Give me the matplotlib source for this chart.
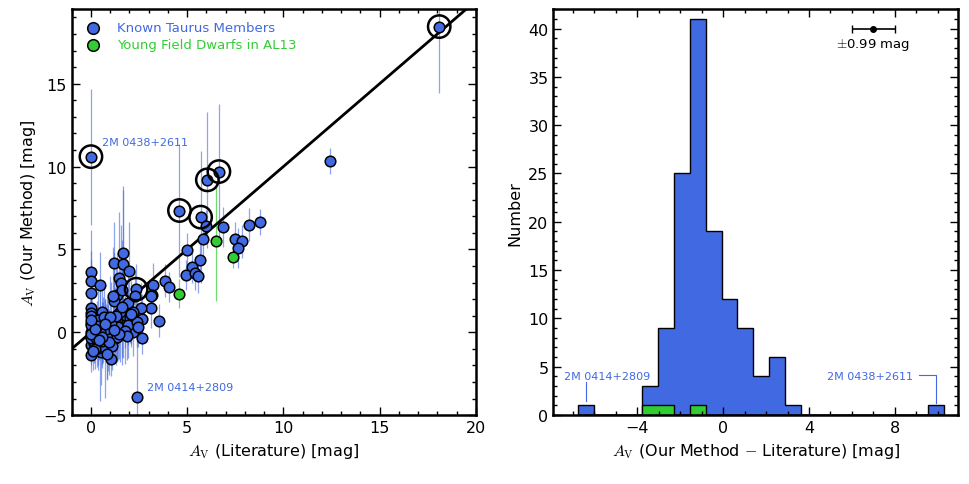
import numpy as np
import matplotlib
matplotlib.use("Agg")
import matplotlib.pyplot as plt
from matplotlib.ticker import MultipleLocator

plt.rcParams['font.family'] = ['DejaVu Sans']
plt.rcParams['mathtext.fontset'] = 'cm'

BLUE = '#4169E1'
GREEN = '#32CD32'

# --- left panel: Taurus members (literature Av, our Av, error on ours)
lit_av = [0.0, 18.1, 12.4, 4.6, 5.7, 6.05, 6.65, 2.35, 2.37,
          6.0, 6.87, 8.2, 8.8, 5.8, 7.5, 7.83, 7.62, 4.97, 5.68, 5.25,
          4.94, 5.4, 5.54, 3.85, 4.07, 3.55, 3.24, 3.12, 3.15, 3.12,
          1.68, 1.18, 1.68, 1.97, 0.0, 0.0, 0.47, 1.45, 1.56, 1.33,
          1.63, 0.0, 1.18, 1.92, 2.6, 0.0, 0.0, 0.0, 0.59, 0.0,
          2.65, 2.06, 1.59, 1.77, 1.33, 1.15, 0.64, 0.28, 1.68, 2.18,
          2.65, 0.86, 1.27, 0.47, 0.3, 0.0, 0.0, 0.0, 0.5, 0.16,
          1.02, 0.35, 0.0, 1.16, 2.29, 2.2, 0.38, 0.9, 0.59, 0.9,
          1.33, 0.38, 0.17, 0.73, 0.64, 1.25, 0.0, 0.0, 0.24, 2.03,
          1.4, 1.05, 0.8, 0.55, 1.9, 1.5, 0.7, 1.1, 0.2, 0.45,
          1.75, 2.4, 0.95, 1.3, 0.1, 0.6, 1.85, 2.1, 0.0, 0.3,
          1.0, 1.45, 0.85, 0.2, 0.0, 1.2, 1.6, 0.75, 0.4, 2.45]
our_av = [10.6, 18.45, 10.35, 7.35, 6.95, 9.2, 9.7, 2.6, -3.9,
          6.4, 6.35, 6.5, 6.67, 5.64, 5.64, 5.48, 5.1, 4.99, 4.38, 3.95,
          3.47, 3.55, 3.4, 3.11, 2.75, 0.7, 2.88, 1.47, 2.26, 2.16,
          4.8, 4.18, 4.1, 3.68, 3.65, 3.12, 2.87, 3.25, 2.95, 2.26,
          2.55, 2.36, 1.86, 1.76, 1.45, 1.45, 1.15, 0.98, 1.25, 0.55,
          0.82, 0.8, 0.55, 1.05, 0.68, 0.04, 0.14, 0.06, -0.06, 0.04,
          -0.34, -0.36, -0.33, -0.67, -0.92, -0.26, -0.77, -1.37, -1.17, -0.67,
          -1.62, -0.95, 0.04, 2.16, 2.2, 1.25, 0.75, 0.34, -0.16, -0.36,
          -0.26, -0.77, -0.56, -0.97, 0.34, 0.75, 0.44, -0.36, -0.36, 0.85,
          0.3, 0.55, 0.2, -0.5, 0.45, 1.2, 0.9, -0.8, -1.0, 0.0,
          0.1, 0.6, -0.6, 1.0, -1.1, -0.3, -0.2, 1.1, -0.1, 0.4,
          0.9, -0.1, -1.3, 0.2, 0.75, 0.15, 1.5, 0.5, -0.45, 0.3]
our_err = [4.1, 4.0, 0.8, 4.0, 4.0, 4.1, 4.1, 1.5, 4.0,
           1.0, 1.2, 1.0, 0.8, 1.2, 1.0, 1.0, 1.2, 1.0, 1.2, 1.0,
           0.9, 1.0, 1.0, 1.0, 0.9, 1.0, 1.3, 1.2, 1.0, 1.0,
           4.0, 2.5, 4.5, 3.0, 2.5, 1.8, 2.0, 4.0, 3.5, 2.5,
           3.0, 2.0, 3.0, 2.5, 1.5, 2.5, 1.5, 2.0, 1.5, 2.0,
           1.5, 1.5, 2.5, 2.0, 2.5, 1.5, 2.0, 1.2, 1.5, 1.5,
           1.0, 2.5, 1.5, 3.5, 1.2, 1.2, 1.2, 1.0, 2.0, 1.2,
           1.0, 1.0, 1.0, 3.0, 1.5, 1.5, 2.0, 2.0, 2.0, 2.0,
           1.5, 1.5, 1.2, 3.0, 1.5, 2.0, 1.5, 1.2, 1.2, 1.5,
           2.0, 2.5, 1.5, 1.5, 2.0, 3.0, 2.0, 1.5, 1.2, 1.5,
           2.0, 1.5, 2.0, 3.0, 1.2, 1.5, 1.5, 2.0, 1.2, 1.5,
           2.5, 1.5, 1.5, 1.2, 1.5, 2.0, 3.0, 1.5, 1.2, 1.2]
# which of them get a black ring
ringed = [0, 1, 3, 4, 5, 6, 7]

# young field dwarfs from AL13
fd_lit = [4.6, 6.5, 7.4]
fd_our = [2.34, 5.5, 4.57]
fd_err = [0.9, 3.6, 0.7]

# --- right panel: histogram of the differences
bin_edges = np.linspace(-6.73, 10.29, 24)
all_counts = [1, 0, 0, 0, 3, 9, 25, 41, 19, 12, 9, 4, 6, 1,
              0, 0, 0, 0, 0, 0, 0, 0, 1]
fd_counts = [0, 0, 0, 0, 1, 1, 0, 1, 0, 0, 0, 0, 0, 0,
             0, 0, 0, 0, 0, 0, 0, 0, 0]
typical_err = 0.99

fig = plt.figure(figsize=(9.69, 4.85), dpi=100)
ax1 = fig.add_axes([0.074, 0.142, 0.417, 0.837])
ax2 = fig.add_axes([0.571, 0.142, 0.418, 0.837])


def style_axes(ax):
    ax.tick_params(which='both', direction='in', top=True, right=True,
                   labelsize=11.5, width=1)
    ax.tick_params(which='major', length=6)
    ax.tick_params(which='minor', length=3)
    for sp in ax.spines.values():
        sp.set_linewidth(1.8)


# left panel
ax1.errorbar(lit_av, our_av, yerr=our_err, fmt='none', ecolor=BLUE,
             elinewidth=0.9, alpha=0.6, zorder=1)
ax1.errorbar(fd_lit, fd_our, yerr=fd_err, fmt='none', ecolor=GREEN,
             elinewidth=0.9, alpha=0.7, zorder=1)
ax1.plot([-1, 20], [-1, 20], color='k', lw=2, zorder=2)
ax1.scatter(lit_av, our_av, s=58, c=BLUE, edgecolors='k', linewidths=1.1,
            zorder=3, label='Known Taurus Members')
ax1.scatter(fd_lit, fd_our, s=58, c=GREEN, edgecolors='k', linewidths=1.1,
            zorder=3, label='Young Field Dwarfs in AL13')
ax1.scatter([lit_av[i] for i in ringed], [our_av[i] for i in ringed],
            s=260, facecolors='none', edgecolors='k', linewidths=1.8, zorder=4)
ax1.text(0.6, 11.5, '2M 0438+2611', color=BLUE, fontsize=8, va='center')
ax1.text(2.9, -3.3, '2M 0414+2809', color=BLUE, fontsize=8, va='center')

ax1.set_xlim(-1, 20)
ax1.set_ylim(-5, 19.5)
ax1.xaxis.set_major_locator(MultipleLocator(5))
ax1.xaxis.set_minor_locator(MultipleLocator(1))
ax1.yaxis.set_major_locator(MultipleLocator(5))
ax1.yaxis.set_minor_locator(MultipleLocator(1))
ax1.set_xlabel(r'$A_{\rm V}$ (Literature) [mag]', fontsize=11.5)
ax1.set_ylabel(r'$A_{\rm V}$ (Our Method) [mag]', fontsize=11.5)
style_axes(ax1)

leg = ax1.legend(loc='upper left', frameon=False, fontsize=9.5,
                 handletextpad=1.0, borderaxespad=0.5, labelspacing=0.3,
                 scatterpoints=1, handlelength=1.5, markerscale=1.1)
for txt, col in zip(leg.get_texts(), [BLUE, GREEN]):
    txt.set_color(col)

# right panel
centers = 0.5 * (bin_edges[:-1] + bin_edges[1:])
ax2.hist(centers, bins=bin_edges, weights=all_counts, histtype='stepfilled',
         facecolor=BLUE, edgecolor='k', linewidth=1)
ax2.hist(centers, bins=bin_edges, weights=fd_counts, histtype='stepfilled',
         facecolor=GREEN, edgecolor='k', linewidth=1)
ax2.errorbar([7.0], [40], xerr=[typical_err], fmt='o', color='k', ms=4,
             elinewidth=1.2, capsize=3, ecolor='k')
ax2.text(7.0, 38.4, r'$\pm$0.99 mag', ha='center', va='center', fontsize=9.5)

ax2.plot([-6.39, -6.39], [1.5, 3.4], color=BLUE, lw=0.8)
ax2.text(-5.4, 4.1, '2M 0414+2809', color=BLUE, fontsize=8,
         ha='center', va='center')
ax2.plot([9.1, 9.9, 9.9], [4.2, 4.2, 1.3], color=BLUE, lw=0.8)
ax2.text(8.85, 4.1, '2M 0438+2611', color=BLUE, fontsize=8,
         ha='right', va='center')

ax2.set_xlim(-7.9, 10.95)
ax2.set_ylim(0, 42)
ax2.xaxis.set_major_locator(MultipleLocator(4))
ax2.xaxis.set_minor_locator(MultipleLocator(1))
ax2.yaxis.set_major_locator(MultipleLocator(5))
ax2.yaxis.set_minor_locator(MultipleLocator(1))
ax2.set_xlabel(r'$A_{\rm V}$ (Our Method $-$ Literature) [mag]', fontsize=11.5)
ax2.set_ylabel('Number', fontsize=11.5)
style_axes(ax2)

fig.savefig('out.png', dpi=100)
